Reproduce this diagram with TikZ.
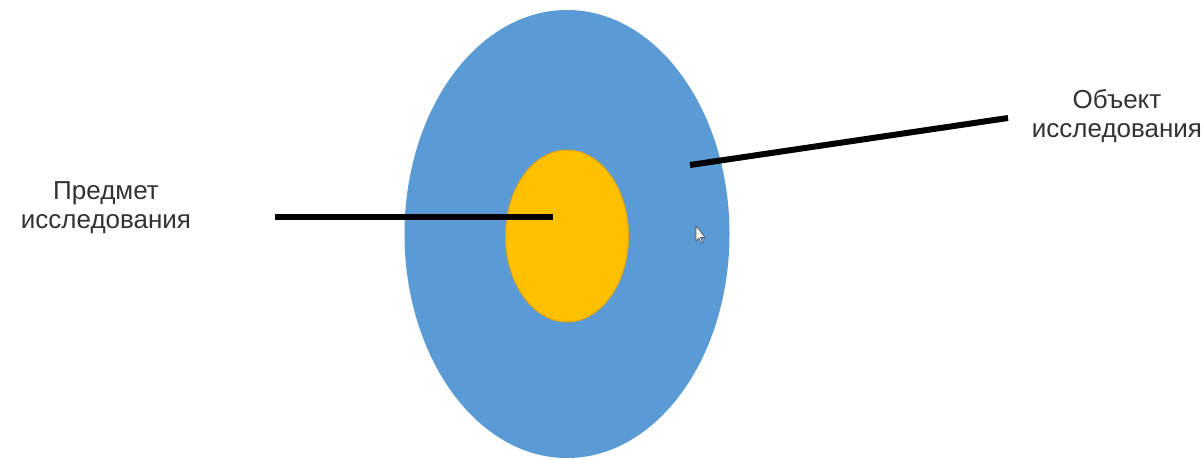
\documentclass[tikz,border=0pt]{standalone}
\usepackage{fontspec}
\setmainfont{Liberation Sans}
\usetikzlibrary{shapes.geometric}
\definecolor{outerblue}{HTML}{5B9BD5}
\definecolor{inneryellow}{HTML}{FFC000}
\definecolor{inneredge}{HTML}{D9A21B}
\tikzset{
  lbl/.style={align=center, font=\fontsize{26}{29}\selectfont, text=black!80, inner sep=0pt},
  leader/.style={line width=6pt, black},
}
\begin{document}
\begin{tikzpicture}[x=1pt,y=-1pt]
\useasboundingbox (0,0) rectangle (1204,459);
\fill[white] (0,0) rectangle (1204,459);
\node[ellipse, fill=outerblue, minimum width=325pt, minimum height=448pt, inner sep=0pt] (outer) at (567,234) {};
\node[ellipse, fill=inneryellow, draw=inneredge, line width=1pt, minimum width=123pt, minimum height=172pt, inner sep=0pt] (inner) at (567,236) {};
\node[lbl] (subj) at (106,208) {Предмет\\исследования};
\node[lbl] (obj) at (1117,116) {Объект\\исследования};
\coordinate (subjend) at (275,217);
\coordinate (subjin) at (553,217);
\coordinate (objin) at (690,165);
\coordinate (objend) at (1008,118);
\draw[leader] (subjend) -- (subjin);
\draw[leader] (objin) -- (objend);
\draw[fill=white, draw=black!70, line width=0.6pt] (696,226) -- (696,241) -- (699,238) -- (701.5,243) -- (703,242.3) -- (700.6,237.5) -- (705,237.5) -- cycle;
\end{tikzpicture}
\end{document}
